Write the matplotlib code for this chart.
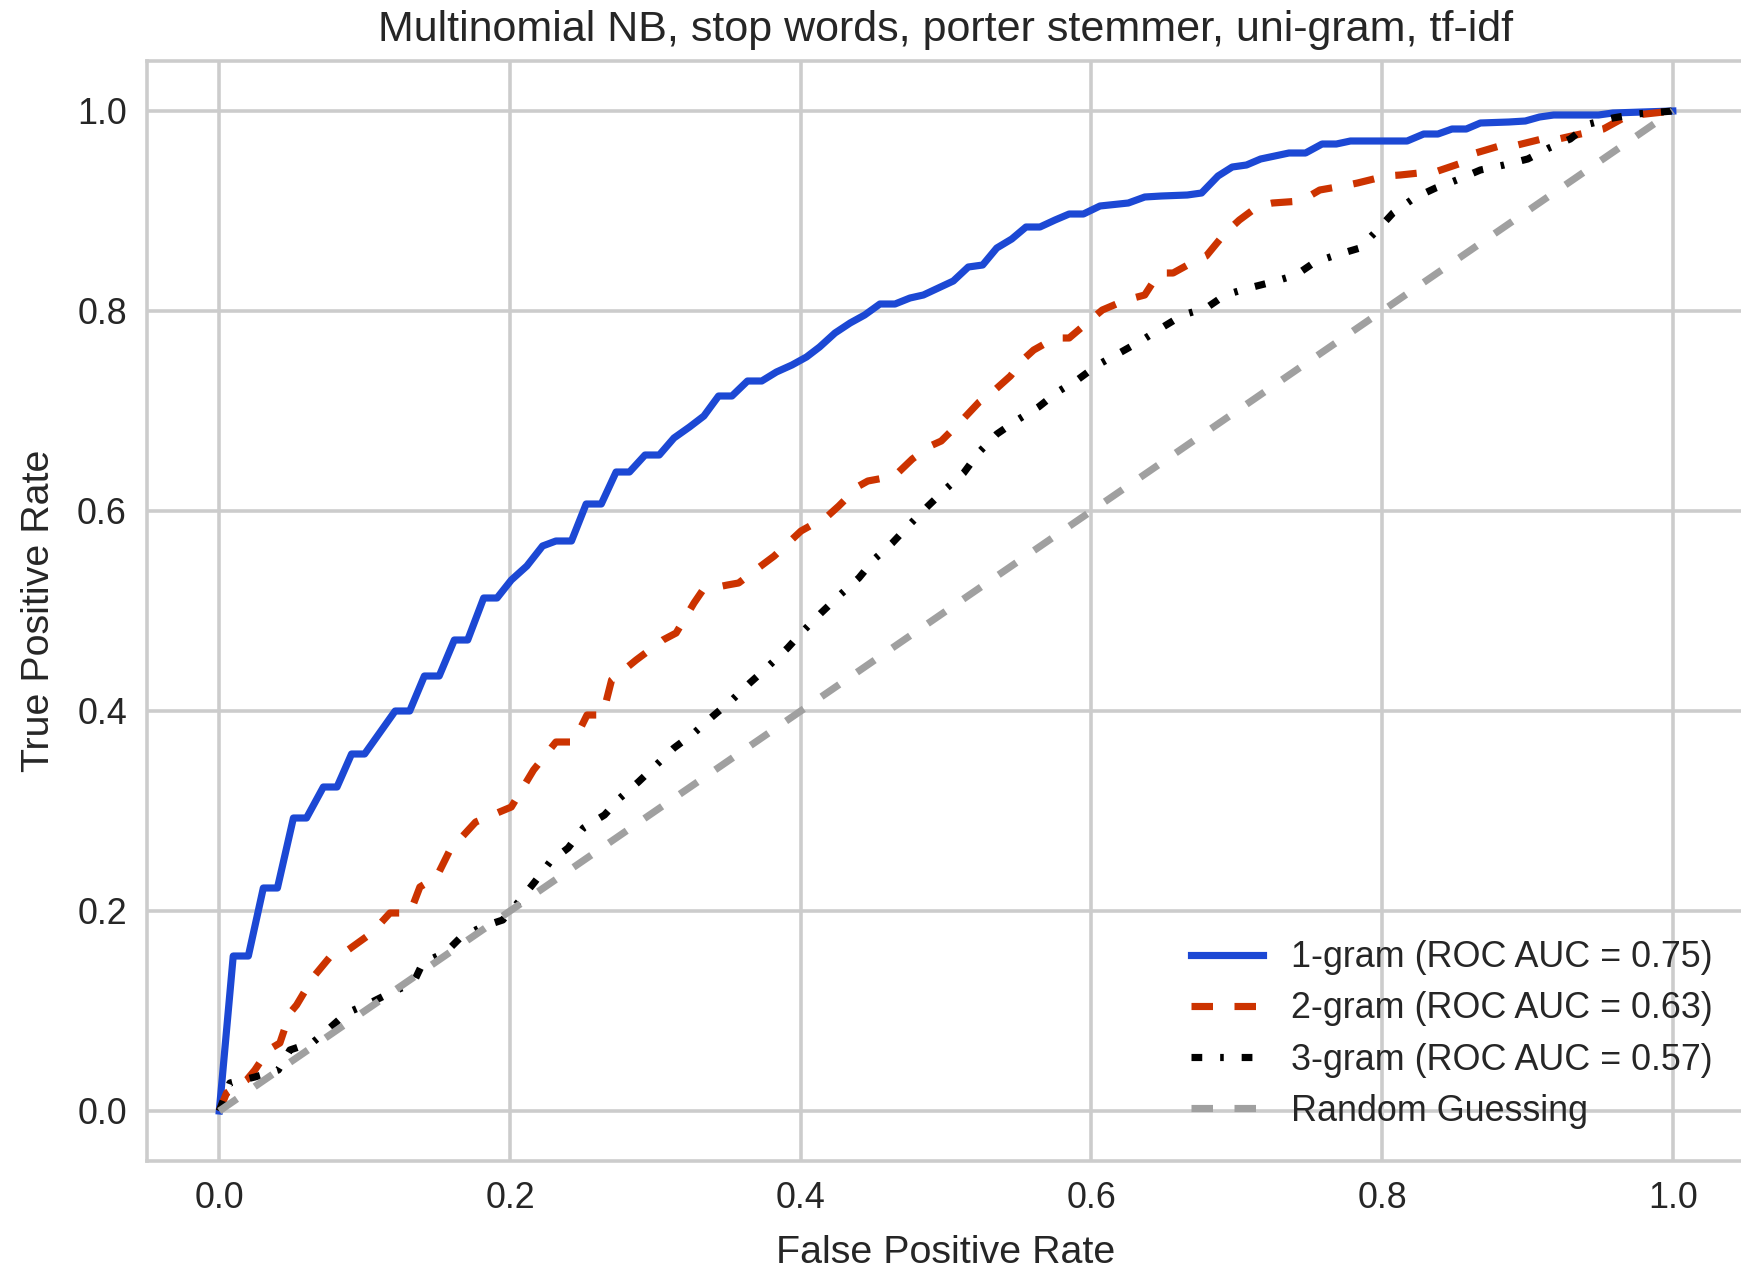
import matplotlib
matplotlib.use("Agg")
import matplotlib.pyplot as plt

# ROC points (false positive rate, true positive rate)
fpr_1gram = [0, 0.0096, 0.020, 0.0303, 0.040, 0.051, 0.060, 0.0716, 0.081, 0.091, 0.100,
             0.121, 0.131, 0.1411, 0.1513, 0.1617, 0.1709, 0.1819, 0.1911, 0.2009, 0.2116,
             0.2224, 0.2316, 0.2423, 0.2524, 0.2628, 0.273, 0.2822, 0.2929, 0.3027, 0.3128,
             0.3235, 0.3334, 0.3435, 0.3527, 0.3634, 0.3732, 0.3833, 0.394, 0.404, 0.413,
             0.4236, 0.434, 0.444, 0.4545, 0.4649, 0.4752, 0.4844, 0.4947, 0.505, 0.5153,
             0.5252, 0.5349, 0.5452, 0.555, 0.5646, 0.575, 0.5847, 0.5945, 0.6059, 0.6254,
             0.6367, 0.6481, 0.666, 0.6758, 0.6871, 0.6969, 0.7067, 0.7164, 0.7359, 0.7473,
             0.7587, 0.7685, 0.7782, 0.8172, 0.8286, 0.8384, 0.8481, 0.8579, 0.8676, 0.8872,
             0.8985, 0.9083, 0.918, 0.9489, 0.9587, 1.0]
tpr_1gram = [0, 0.155, 0.155, 0.223, 0.223, 0.293, 0.293, 0.324, 0.324, 0.357, 0.357,
             0.400, 0.400, 0.435, 0.435, 0.471, 0.471, 0.513, 0.513, 0.531, 0.545,
             0.565, 0.570, 0.570, 0.607, 0.607, 0.639, 0.639, 0.656, 0.656, 0.673,
             0.684, 0.695, 0.715, 0.715, 0.730, 0.730, 0.739, 0.746, 0.754, 0.764,
             0.778, 0.788, 0.796, 0.807, 0.807, 0.813, 0.816, 0.823, 0.830, 0.844,
             0.846, 0.863, 0.872, 0.884, 0.884, 0.891, 0.897, 0.897, 0.905, 0.908,
             0.914, 0.915, 0.916, 0.918, 0.935, 0.944, 0.946, 0.952, 0.958, 0.958,
             0.967, 0.967, 0.970, 0.970, 0.977, 0.977, 0.982, 0.982, 0.988, 0.989,
             0.990, 0.994, 0.996, 0.996, 0.998, 1.0]

fpr_2gram = [0, 0.005, 0.0188, 0.0245, 0.0337, 0.0417, 0.0486, 0.0532, 0.0647, 0.0761,
             0.0876, 0.1048, 0.1174, 0.1312, 0.138, 0.1495, 0.1587, 0.1764, 0.2009, 0.2162,
             0.2316, 0.2438, 0.253, 0.2638, 0.2699, 0.2868, 0.3052, 0.3143, 0.3266, 0.3327,
             0.3496, 0.3573, 0.3726, 0.3818, 0.4002, 0.4186, 0.4262, 0.44, 0.4462, 0.4646,
             0.4768, 0.4891, 0.4967, 0.5105, 0.5228, 0.532, 0.5443, 0.5535, 0.5603, 0.575,
             0.5847, 0.5993, 0.6075, 0.6237, 0.6367, 0.6465, 0.6562, 0.6725, 0.679, 0.692,
             0.7018, 0.7148, 0.7246, 0.7441, 0.7571, 0.7766, 0.7831, 0.8026, 0.8124, 0.8384,
             0.8546, 0.8644, 0.8807, 0.8904, 0.9099, 0.9213, 0.9457, 0.9522, 0.9685, 1.0]
tpr_2gram = [0, 0.018, 0.031, 0.041, 0.061, 0.068, 0.098, 0.106, 0.134, 0.154,
             0.160, 0.178, 0.198, 0.198, 0.224, 0.234, 0.261, 0.289, 0.304, 0.341,
             0.369, 0.369, 0.396, 0.396, 0.431, 0.451, 0.471, 0.478, 0.508, 0.521,
             0.526, 0.528, 0.545, 0.555, 0.580, 0.595, 0.605, 0.625, 0.630, 0.635,
             0.652, 0.665, 0.670, 0.690, 0.709, 0.719, 0.735, 0.752, 0.761, 0.773,
             0.773, 0.791, 0.801, 0.811, 0.816, 0.838, 0.838, 0.851, 0.855, 0.878,
             0.891, 0.905, 0.908, 0.910, 0.921, 0.926, 0.928, 0.935, 0.936, 0.940,
             0.948, 0.958, 0.965, 0.965, 0.972, 0.972, 0.980, 0.982, 0.995, 1.0]

fpr_3gram = [0, 0.0073, 0.0245, 0.0406, 0.0486, 0.0647, 0.076, 0.0876, 0.1037, 0.1174,
             0.1335, 0.140, 0.156, 0.1656, 0.1805, 0.195, 0.207, 0.217, 0.2275, 0.240,
             0.2505, 0.265, 0.2757, 0.2883, 0.3006, 0.3128, 0.3266, 0.3389, 0.3527, 0.365,
             0.3772, 0.391, 0.4017, 0.414, 0.4262, 0.44, 0.4508, 0.463, 0.4753, 0.4876,
             0.4998, 0.5121, 0.5228, 0.535, 0.549, 0.5636, 0.5766, 0.5912, 0.6042, 0.6205,
             0.6351, 0.6481, 0.6628, 0.679, 0.692, 0.7083, 0.7245, 0.7408, 0.7538, 0.7685,
             0.7847, 0.7961, 0.8075, 0.8221, 0.8368, 0.8514, 0.8676, 0.8839, 0.9002, 0.9148,
             0.9294, 0.9424, 0.9587, 0.975, 1.0]
tpr_3gram = [0, 0.028, 0.034, 0.041, 0.061, 0.069, 0.083, 0.098, 0.108, 0.118,
             0.128, 0.148, 0.159, 0.173, 0.184, 0.191, 0.211, 0.229, 0.249, 0.263,
             0.283, 0.296, 0.313, 0.329, 0.346, 0.363, 0.378, 0.394, 0.411, 0.428,
             0.444, 0.463, 0.480, 0.498, 0.515, 0.533, 0.552, 0.568, 0.587, 0.605,
             0.622, 0.638, 0.659, 0.677, 0.691, 0.704, 0.719, 0.732, 0.746, 0.759,
             0.771, 0.783, 0.796, 0.803, 0.816, 0.823, 0.829, 0.836, 0.849, 0.856,
             0.863, 0.880, 0.898, 0.913, 0.923, 0.931, 0.941, 0.946, 0.952, 0.963,
             0.972, 0.987, 0.993, 0.997, 1.0]

labels = ["1-gram (ROC AUC = 0.75)", "2-gram (ROC AUC = 0.63)",
          "3-gram (ROC AUC = 0.57)", "Random Guessing"]
ticks = [0.0, 0.2, 0.4, 0.6, 0.8, 1.0]

plt.rcParams['font.family'] = ['Liberation Sans', 'DejaVu Sans']
plt.rcParams['lines.scale_dashes'] = False
plt.rcParams['text.color'] = '#262626'
plt.rcParams['axes.labelcolor'] = '#262626'
plt.rcParams['xtick.color'] = '#262626'
plt.rcParams['ytick.color'] = '#262626'

dpi = 258
fig = plt.figure(figsize=(1741 / dpi, 1270 / dpi), dpi=dpi)
ax = fig.add_axes([146.6 / 1741, 109 / 1270, 1598.9 / 1741, 1100 / 1270])

lw = 2.0
ax.plot(fpr_1gram, tpr_1gram, color='#1c48d4', lw=lw, label=labels[0])
ax.plot(fpr_2gram, tpr_2gram, color='#cc3300', lw=lw, dashes=(6, 6), label=labels[1])
ax.plot(fpr_3gram, tpr_3gram, color='black', lw=lw, dashes=(3, 5, 1, 5), label=labels[2])
ax.plot([0, 1], [0, 1], color='#a0a0a0', lw=lw, dashes=(6, 6), label=labels[3])

ax.set_xlim(-0.05, 1.05)
ax.set_ylim(-0.05, 1.05)
ax.set_xticks(ticks)
ax.set_yticks(ticks)
ax.grid(True, color='#cccccc', lw=1.0)
ax.set_axisbelow(True)
for s in ax.spines.values():
    s.set_color('#cccccc')
    s.set_linewidth(1.0)
ax.tick_params(length=0, pad=5.5, labelsize=10)

ax.set_xlabel("False Positive Rate", fontsize=11, labelpad=5.5)
ax.set_ylabel("True Positive Rate", fontsize=11, labelpad=5.5)
ax.set_title("Multinomial NB, stop words, porter stemmer, uni-gram, tf-idf", fontsize=12, pad=5.5)

ax.legend(loc='lower right', fontsize=10, frameon=False, labelspacing=0.45)

fig.savefig("out.png", dpi=dpi)
